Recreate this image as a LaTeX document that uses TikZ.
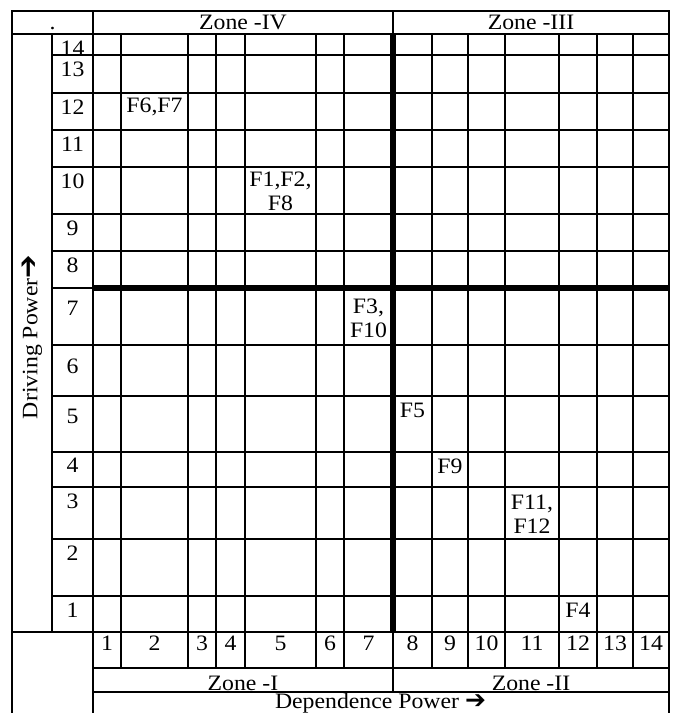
\documentclass[tikz,border=0pt]{standalone}
\usepackage{fontspec}
\setmainfont[FakeStretch=1.08]{Liberation Serif}
\newfontfamily\arrowfont{DejaVu Sans}
\usetikzlibrary{positioning}

\begin{document}
\begin{tikzpicture}[x=1pt, y=-1pt,
  grid/.style={line width=1.8pt, line cap=rect},
  axis/.style={line width=5.5pt},
  lbl/.style={anchor=base, inner sep=0pt, font=\fontsize{22}{24}\selectfont},
  cell/.style={lbl, align=center}
]
\useasboundingbox (0,0) rectangle (675,713);

\draw[grid] (12,713) -- (12,11) -- (669,11) -- (669,713);
\draw[grid] (12,34) -- (669,34);
\draw[grid] (93,11) -- (93,713);
\draw[grid] (393,11) -- (393,34);
\draw[grid] (52,34) -- (52,632);
\foreach \y in {55,93,130,167,214,251,345,396,452,487,539,596}
  \draw[grid] (52,\y) -- (669,\y);
\draw[grid] (52,288) -- (93,288);
\foreach \x in {121,188,216,245,316,344,432,468,505,559,597,633}
  \draw[grid] (\x,34) -- (\x,668);
\draw[grid] (12,632) -- (669,632);
\draw[grid] (393,632) -- (393,692);
\draw[grid] (93,668) -- (669,668);
\draw[grid] (93,692) -- (669,692);
\draw[axis] (93,288) -- (669,288);
\draw[axis] (393,34) -- (393,632);

\node[lbl] (dot) at (52.5,29) {.};
\node[lbl] (z4) at (243,29) {Zone -IV};
\node[lbl] (z3) at (531,29) {Zone -III};
\node[lbl] (z1) at (243,690) {Zone -I};
\node[lbl] (z2) at (531,690) {Zone -II};
\node[lbl] (dep) at (380.5,708) {Dependence Power {\arrowfont\fontsize{25}{25}\selectfont ➔}};
\node[lbl, anchor=center, rotate=90] (drv) at (32,337) {Driving Power{\arrowfont\fontsize{28}{28}\selectfont ➔}};

\foreach \n/\t/\d in {14/34/21, 13/55/21, 12/93/21, 11/130/21, 10/167/21,
    9/214/21, 8/251/21, 7/288/27, 6/345/28, 5/396/27, 4/452/20,
    3/487/21, 2/539/21, 1/596/21}
  \node[lbl] (r\n) at (72.5,\t+\d) {\n};

\foreach \n/\a/\b in {1/93/121, 2/121/188, 3/188/216, 4/216/245, 5/245/316,
    6/316/344, 7/344/393, 8/393/432, 9/432/468, 10/468/505, 11/505/559,
    12/559/597, 13/597/633, 14/633/669}
  \node[lbl] (c\n) at ({(\a+\b)/2},650) {\n};

\node[cell] (f67) at (154.5,112) {F6,F7};
\node[cell] (f128) at (280.5,210) {F1,F2,\\F8};
\node[cell] (f310) at (368.5,337) {F3,\\F10};
\node[cell] (f5) at (412.5,417) {F5};
\node[cell] (f9) at (450,473) {F9};
\node[cell] (f1112) at (532,533) {F11,\\F12};
\node[cell] (f4) at (578,617) {F4};
\end{tikzpicture}
\end{document}
